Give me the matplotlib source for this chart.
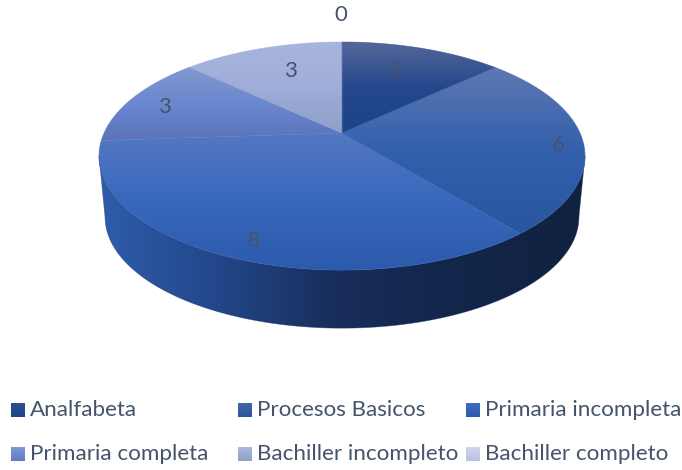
import numpy as np
import matplotlib
matplotlib.use("Agg")
import matplotlib.pyplot as plt
from matplotlib.colors import LinearSegmentedColormap
from matplotlib.patches import Polygon

# DATA #
categories = ["Analfabeta", "Procesos Basicos", "Primaria incompleta",
              "Primaria completa", "Bachiller incompleto", "Bachiller completo"]
values = [3, 6, 8, 3, 0, 3]

# STYLE #
slice_stops = [["#55689a", "#25478c", "#1c4488"],
               ["#5f78b2", "#3260ad", "#2a56a0"],
               ["#5578c2", "#3868bc", "#2c5aac"],
               ["#8098d0", "#6a88cf", "#5a72b8"],
               ["#b0bbe0", "#aab6de", "#98a8d2"],
               ["#a8b5de", "#9fadd8", "#8e9fc8"]]
legend_stops = [["#2f4f8e", "#1f4488"], ["#4266a4", "#2a56a0"], ["#3f6cc2", "#2c5aac"],
                ["#8199d8", "#5f7cc0"], ["#acb8e0", "#8e9fc8"], ["#ced5ec", "#b8c2e0"]]
wall_stops = ["#2f5dab", "#224688", "#172c58", "#12264a", "#10223f"]
label_xy = [(393, 71), (558, 145), (253, 241), (164, 107), (341, 15), (290, 71)]
legend_xy = [(11, 410), (238, 410), (466, 410), (11, 454), (238, 454), (466, 454)]
text_color = "#44546a"
font = "Lato"

CX, CY = 342, 133
CX2, CY2, SHRINK = 342, 194.5, 0.975
A, B, C = 238.0, 109.4, 0.202


def project(theta, r=1.0, cy=CY, scale=1.0):
    # clockwise angle from the top of the disc, with a little perspective
    u, v = r*np.sin(theta), r*np.cos(theta)
    d = 1 + C*v
    return CX + scale*A*u/d, cy - scale*B*v/d


def gradient(ax, stops, extent, clip, horizontal=False, zorder=2):
    cmap = LinearSegmentedColormap.from_list("g", stops)
    g = np.linspace(0, 1, 256)
    g = g.reshape(1, -1) if horizontal else g.reshape(-1, 1)
    im = ax.imshow(g, cmap=cmap, extent=extent, aspect="auto", zorder=zorder, interpolation="bilinear")
    im.set_clip_path(clip)


fig = plt.figure(figsize=(6.82, 4.70), dpi=100)
ax = fig.add_axes([0, 0, 1, 1])

# side wall, between the points where top and bottom disc are widest
t0 = np.degrees(np.arccos(-C))
t = np.radians(np.linspace(t0, 360-t0, 200))
xt, yt = project(t)
xb, yb = project(t[::-1], cy=CY2, scale=SHRINK)
wall_pts = np.column_stack([np.r_[xt, xb], np.r_[yt, yb]])
wall = Polygon(wall_pts, closed=True, fc="none", ec="none")
ax.add_patch(wall)
gradient(ax, wall_stops, (99, 585, 330, 130), wall, horizontal=True, zorder=1)
ax.add_patch(Polygon(wall_pts, closed=True, fc="none", ec="#1b3363", lw=0.5, alpha=0.5, zorder=1.5))

# top slices
edges = np.cumsum([0] + values)/sum(values)*2*np.pi
for i, v in enumerate(values):
    if v == 0:
        continue
    t = np.linspace(edges[i], edges[i+1], 150)
    x, y = project(t)
    pts = np.column_stack([np.r_[CX, x], np.r_[CY, y]])
    p = Polygon(pts, closed=True, fc="none", ec="none")
    ax.add_patch(p)
    gradient(ax, slice_stops[i], (pts[:, 0].min(), pts[:, 0].max(), pts[:, 1].max(), pts[:, 1].min()), p)
    ax.add_patch(Polygon(pts, closed=True, fc="none", ec=slice_stops[i][1], lw=0.5, alpha=0.6, zorder=3))

# data labels
for (lx, ly), v in zip(label_xy, values):
    ax.text(lx, ly, str(v), ha="center", va="center", fontsize=16, color=text_color,
            family=font, zorder=5)

# legend
for (lx, ly), name, stops in zip(legend_xy, categories, legend_stops):
    sw = Polygon([(lx, ly-7), (lx+14, ly-7), (lx+14, ly+7), (lx, ly+7)], closed=True, fc="none", ec="none")
    ax.add_patch(sw)
    gradient(ax, stops, (lx, lx+14, ly+7, ly-7), sw)
    ax.text(lx+19, ly, name, ha="left", va="center", fontsize=16.1, color=text_color, family=font)

ax.set_xlim(0, 682)
ax.set_ylim(470, 0)
ax.axis("off")
fig.savefig("out.png", dpi=100, facecolor="white")
